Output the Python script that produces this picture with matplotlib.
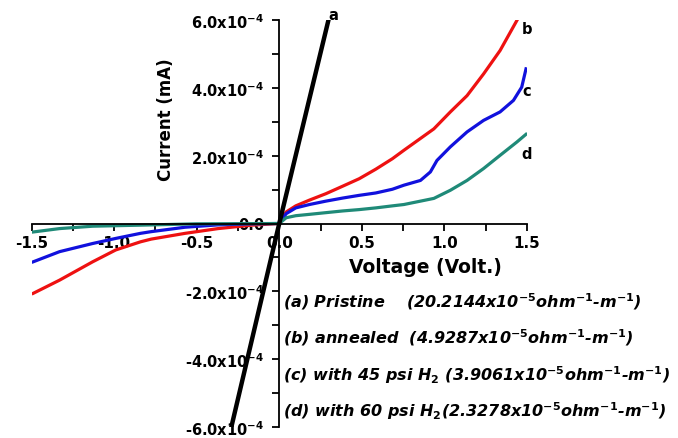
import matplotlib
matplotlib.use("Agg")
import matplotlib.pyplot as plt
from matplotlib.ticker import FixedLocator, FixedFormatter, MultipleLocator

plt.rcParams['font.family'] = ['DejaVu Sans']
plt.rcParams['mathtext.fontset'] = 'custom'
plt.rcParams['mathtext.it'] = 'DejaVu Sans:bold:italic'
plt.rcParams['mathtext.bf'] = 'DejaVu Sans:bold'
plt.rcParams['mathtext.rm'] = 'DejaVu Sans:bold'

# ---- data (Voltage in V, Current in units of 1e-4) ----
v_a = [-0.29, 0.0, 0.298]
i_a = [-6.0, 0.0, 6.0]

v_b = [-1.49, -1.33, -1.13, -0.99, -0.84, -0.775, -0.57, -0.37, -0.17, 0.0,
       0.042, 0.10, 0.183, 0.283, 0.384, 0.484, 0.584, 0.685, 0.755, 0.936, 1.036, 1.137, 1.237, 1.337, 1.438]
i_b = [-2.06, -1.67, -1.13, -0.78, -0.54, -0.46, -0.29, -0.15, -0.05, 0.0,
       0.34, 0.52, 0.69, 0.88, 1.10, 1.32, 1.60, 1.91, 2.16, 2.79, 3.29, 3.77, 4.41, 5.10, 5.98]

v_c = [-1.49, -1.33, -1.13, -0.99, -0.84, -0.775, -0.57, -0.37, -0.17, 0.0,
       0.042, 0.10, 0.183, 0.283, 0.384, 0.484, 0.584, 0.685, 0.755, 0.855, 0.915, 0.955, 1.036, 1.137, 1.237, 1.337, 1.418, 1.468, 1.494]
i_c = [-1.13, -0.83, -0.59, -0.44, -0.29, -0.24, -0.11, -0.04, -0.01, 0.0,
       0.29, 0.46, 0.56, 0.66, 0.75, 0.83, 0.90, 1.01, 1.13, 1.27, 1.52, 1.86, 2.26, 2.70, 3.04, 3.29, 3.63, 4.02, 4.56]

v_d = [-1.49, -1.33, -1.13, -0.85, -0.5, 0.0,
       0.042, 0.10, 0.183, 0.283, 0.384, 0.484, 0.584, 0.685, 0.755, 0.936, 1.036, 1.137, 1.237, 1.337, 1.438, 1.494]
i_d = [-0.25, -0.15, -0.08, -0.05, -0.01, 0.0,
       0.17, 0.23, 0.27, 0.32, 0.37, 0.41, 0.46, 0.52, 0.56, 0.74, 0.98, 1.27, 1.62, 2.01, 2.40, 2.63]

curve_names = ['a', 'b', 'c', 'd']
curve_colors = ['#000000', '#ee1111', '#1111dd', '#1f8a78']

y_ticks = [-6, -4, -2, 0, 2, 4, 6]
y_ticklabels = [r'-6.0x10$^{\mathbf{-4}}$', r'-4.0x10$^{\mathbf{-4}}$', r'-2.0x10$^{\mathbf{-4}}$',
                '0.0', r'2.0x10$^{\mathbf{-4}}$', r'4.0x10$^{\mathbf{-4}}$', r'6.0x10$^{\mathbf{-4}}$']
x_ticks = [-1.5, -1.0, -0.5, 0.0, 0.5, 1.0, 1.5]
x_ticklabels = ['-1.5', '-1.0', '-0.5', '0.0', '0.5', '1.0', '1.5']

legend_lines = [
    r'(a) Pristine    (20.2144x10$^{-5}$ohm$^{-1}$-m$^{-1}$)',
    r'(b) annealed  (4.9287x10$^{-5}$ohm$^{-1}$-m$^{-1}$)',
    r'(c) with 45 psi H$_{2}$ (3.9061x10$^{-5}$ohm$^{-1}$-m$^{-1}$)',
    r'(d) with 60 psi H$_{2}$(2.3278x10$^{-5}$ohm$^{-1}$-m$^{-1}$)',
]

W, H = 678, 439
fig = plt.figure(figsize=(W / 100, H / 100), dpi=100)
left, right = 31.5 / W, 527 / W
bottom, top = (H - 428) / H, (H - 21) / H
ax = fig.add_axes([left, bottom, right - left, top - bottom])

ax.plot(v_a, i_a, color=curve_colors[0], lw=3.2, zorder=5)
ax.plot(v_b, i_b, color=curve_colors[1], lw=2.3)
ax.plot(v_c, i_c, color=curve_colors[2], lw=2.3)
ax.plot(v_d, i_d, color=curve_colors[3], lw=2.3)

ax.set_xlim(-1.5, 1.5)
ax.set_ylim(-6, 6)

for s in ['top', 'right']:
    ax.spines[s].set_visible(False)
ax.spines['left'].set_position(('data', 0))
ax.spines['bottom'].set_position(('data', 0))
ax.spines['left'].set_linewidth(1.3)
ax.spines['bottom'].set_linewidth(1.3)

ax.yaxis.set_major_locator(FixedLocator(y_ticks))
ax.yaxis.set_major_formatter(FixedFormatter(y_ticklabels))
ax.yaxis.set_minor_locator(MultipleLocator(1))
ax.xaxis.set_major_locator(FixedLocator(x_ticks))
ax.xaxis.set_major_formatter(FixedFormatter(x_ticklabels))
ax.xaxis.set_minor_locator(MultipleLocator(0.25))

ax.tick_params(axis='y', which='both', direction='out', length=5, width=1.3, pad=6)
ax.tick_params(axis='x', which='both', direction='out', length=5, width=1.3, pad=3)
for lab in ax.get_yticklabels():
    lab.set_fontweight('bold')
    lab.set_fontsize(10.5)
for lab in ax.get_xticklabels():
    lab.set_fontweight('bold')
    lab.set_fontsize(11)

# curve letters
label_pos = [(0.33, 6.15), (1.50, 5.74), (1.50, 3.91), (1.50, 2.06)]
for name, (lx, ly) in zip(curve_names, label_pos):
    ax.text(lx, ly, name, fontsize=10.5, fontweight='bold', ha='center', va='center', clip_on=False)

fig.text(425 / W, 1 - 268 / H, 'Voltage (Volt.)', fontsize=13.5, fontweight='bold', ha='center', va='center')
fig.text(166 / W, 1 - 120 / H, 'Current (mA)', fontsize=12, fontweight='bold', ha='center', va='center', rotation=90)

leg_y = [302, 338, 375, 411]
for txt, yy in zip(legend_lines, leg_y):
    fig.text(283 / W, 1 - yy / H, txt, fontsize=11.5, fontweight='bold', fontstyle='italic', ha='left', va='center')

fig.savefig('out.png', dpi=100)
